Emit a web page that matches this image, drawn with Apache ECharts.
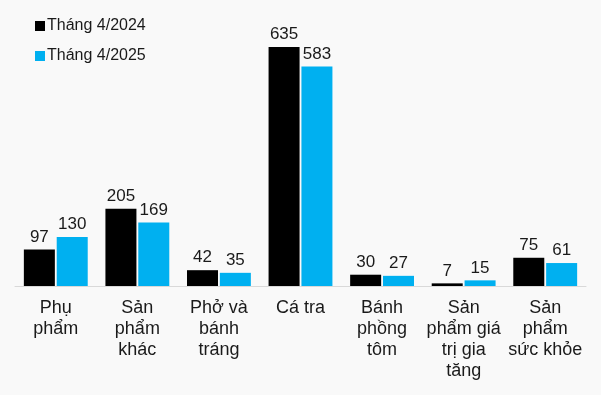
<!DOCTYPE html>
<html><head><meta charset="utf-8">
<script src="https://cdn.jsdelivr.net/npm/echarts@6/dist/echarts.min.js"></script>
<style>html,body{margin:0;padding:0;background:#F9F9F9;}#c{width:601px;height:395px;}</style>
</head><body><div id="c"></div>
<script>
const categories = ["Phụ\nphẩm", "Sản\nphẩm\nkhác", "Phở và\nbánh\ntráng", "Cá tra", "Bánh\nphồng\ntôm", "Sản\nphẩm giá\ntrị gia\ntăng", "Sản\nphẩm\nsức khỏe"];
const series2024 = [97, 205, 42, 635, 30, 7, 75];
const series2025 = [130, 169, 35, 583, 27, 15, 61];
const seriesNames = ["Tháng 4/2024", "Tháng 4/2025"];

const chart = echarts.init(document.getElementById('c'));
const font = 'Liberation Sans, Arial, sans-serif';
chart.setOption({
  backgroundColor: '#F9F9F9',
  animation: false,
  textStyle: {fontFamily: font},
  legend: {
    orient: 'vertical', left: 35, top: 18, itemWidth: 10, itemHeight: 10, itemGap: 14,
    icon: 'rect', padding: 0,
    textStyle: {fontSize: 16, color: '#1a1a1a', fontFamily: font, padding: [0, 0, 0, -3]},
    data: seriesNames
  },
  grid: {left: 15, right: 15, top: 22.5, bottom: 109},
  xAxis: {
    type: 'category', data: categories,
    axisLine: {show: true, lineStyle: {color: '#d9d9d9', width: 1}},
    axisTick: {show: false},
    axisLabel: {interval: 0, fontSize: 18, lineHeight: 21, color: '#1a1a1a', margin: 12, fontFamily: font}
  },
  yAxis: {type: 'value', min: 0, max: 700, show: false, splitLine: {show: false}},
  series: [
    {name: seriesNames[0], type: 'bar', data: series2024, barWidth: 31, barGap: '6%',
     itemStyle: {color: '#000000'},
     label: {show: true, position: 'top', distance: 4, fontSize: 17, color: '#1a1a1a', fontFamily: font}},
    {name: seriesNames[1], type: 'bar', data: series2025, barWidth: 31,
     itemStyle: {color: '#00B0F0'},
     label: {show: true, position: 'top', distance: 4, fontSize: 17, color: '#1a1a1a', fontFamily: font}}
  ]
});
</script></body></html>
